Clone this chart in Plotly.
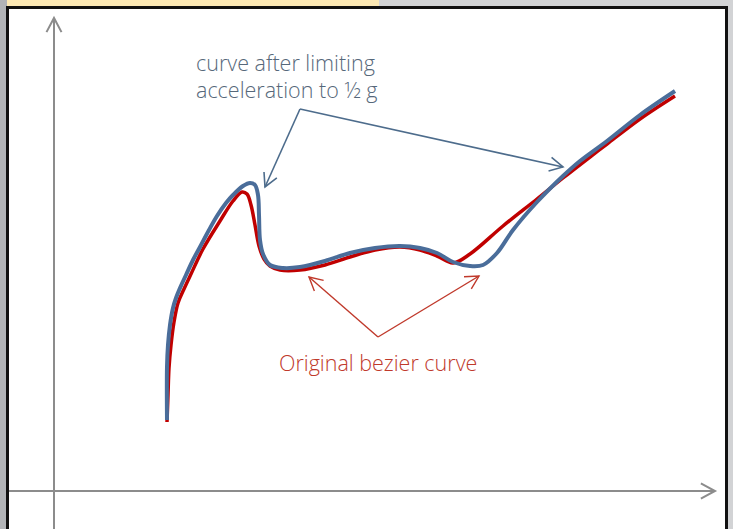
import math
import plotly.graph_objects as go

# ---- data (x, y measured from the axes' origin) ----
original_x = [113, 114, 115, 117, 120, 124, 130, 137, 149, 166, 179, 188, 193, 197, 201, 205, 210,
              216, 226, 246, 271, 296, 321, 346, 366, 383, 399, 416, 449, 483, 509, 536, 553, 586,
              621]
original_y = [69, 96, 123, 146, 169, 188, 202, 217, 242, 270, 290, 299, 297, 286, 266, 245, 232,
              225, 221, 221, 226, 234, 241, 244, 241, 235, 228, 237, 265, 292, 313, 334, 347, 372,
              395]

limited_x = [113, 113, 114, 116, 119, 122, 126, 132, 139, 146, 155, 163, 172, 179, 189, 196, 201,
             204, 205, 206, 209, 216, 229, 246, 271, 296, 321, 346, 366, 383, 399, 416, 429, 443,
             459, 483, 509, 526, 553, 586, 621]
limited_y = [71, 124, 146, 166, 183, 193, 203, 216, 231, 244, 261, 275, 288, 296, 305, 308, 306,
             296, 276, 251, 237, 226, 223, 224, 230, 238, 243, 245, 243, 238, 229, 225, 226, 238,
             261, 289, 315, 330, 350, 376, 400]

label_limited = ["curve after limiting", "acceleration to \u00bd g"]
label_original = "Original bezier curve"

# annotation arrow anchors (data coords)
blue_origin = (246, 382)
blue_tips = [(211, 304), (509, 324)]
red_origin = (324, 154)
red_tips = [(255, 214), (425, 215)]

# ---- layout helpers ----
W, H = 733, 529
OX, OY = 54, 491  # pixel position of origin


def P(px, py):
    return px / W, 1 - py / H


def D(px, py):
    return px - OX, OY - py


RED = "#c00000"
BLUE = "#4a6d9a"
ARROW_BLUE = "#4d6c8c"
ARROW_RED = "#c0392b"
AXIS = "#8c8c8c"

fig = go.Figure()
fig.add_trace(go.Scatter(x=original_x, y=original_y, mode="lines",
                         line=dict(color=RED, width=3.5, shape="spline", smoothing=1.0,
                                   simplify=False),
                         hoverinfo="skip"))
fig.add_trace(go.Scatter(x=limited_x, y=limited_y, mode="lines",
                         line=dict(color=BLUE, width=4, shape="spline", smoothing=1.0,
                                   simplify=False),
                         hoverinfo="skip"))

shapes = []
# background pieces
x0, y0 = P(0, 0); x1, y1 = P(7, H)
shapes.append(dict(type="rect", xref="paper", yref="paper", x0=x0, y0=y0, x1=x1, y1=y1,
                   fillcolor="#b2b4b7", line=dict(width=0), layer="below"))
x0, y0 = P(7, 0); x1, y1 = P(379, 6)
shapes.append(dict(type="rect", xref="paper", yref="paper", x0=x0, y0=y0, x1=x1, y1=y1,
                   fillcolor="#fde9b4", line=dict(width=0), layer="below"))
x0, y0 = P(7.5, 7.5); x1, y1 = P(726.5, 540)
shapes.append(dict(type="rect", xref="paper", yref="paper", x0=x0, y0=y0, x1=x1, y1=y1,
                   fillcolor="white", line=dict(color="#111111", width=3), layer="below"))


def chevron(tip, frm, color, width, L=13, ang=28):
    dx, dy = tip[0] - frm[0], tip[1] - frm[1]
    n = math.hypot(dx, dy)
    ux, uy = dx / n, dy / n
    pts = []
    for s in (1, -1):
        a = math.radians(ang) * s
        rx = ux * math.cos(a) - uy * math.sin(a)
        ry = ux * math.sin(a) + uy * math.cos(a)
        pts.append((tip[0] - L * rx, tip[1] - L * ry))
    path = f"M{pts[0][0]},{pts[0][1]} L{tip[0]},{tip[1]} L{pts[1][0]},{pts[1][1]}"
    return dict(type="path", xref="x", yref="y", path=path,
                line=dict(color=color, width=width), layer="above")


def seg(a, b, color, width, layer="above"):
    return dict(type="line", xref="x", yref="y", x0=a[0], y0=a[1], x1=b[0], y1=b[1],
                line=dict(color=color, width=width), layer=layer)


# axes with open arrow heads
xa0, xa1 = D(9, OY), D(715, OY)
ya0, ya1 = D(OX, 540), D(OX, 18)
shapes.append(seg(xa0, xa1, AXIS, 2, "below"))
shapes.append(seg(ya0, ya1, AXIS, 2, "below"))
shapes.append(chevron(xa1, xa0, AXIS, 2, L=16, ang=28))
shapes.append(chevron(ya1, ya0, AXIS, 2, L=16, ang=28))

# callout arrows
for t in blue_tips:
    shapes.append(seg(blue_origin, t, ARROW_BLUE, 1.6))
    shapes.append(chevron(t, blue_origin, ARROW_BLUE, 1.6, L=15))
for t in red_tips:
    shapes.append(seg(red_origin, t, ARROW_RED, 1.4))
    shapes.append(chevron(t, red_origin, ARROW_RED, 1.4, L=15))

FONT = "Open Sans"
FS = 21.5
annotations = [
    dict(x=D(194, 62)[0], y=D(194, 62)[1], text=label_limited[0], xanchor="left", yanchor="middle",
         showarrow=False, font=dict(family=FONT, size=FS, color="#56687a", weight=300)),
    dict(x=D(194, 89)[0], y=D(194, 89)[1], text=label_limited[1], xanchor="left", yanchor="middle",
         showarrow=False, font=dict(family=FONT, size=FS, color="#56687a", weight=300)),
    dict(x=D(378, 362)[0], y=D(378, 362)[1], text=label_original, xanchor="center", yanchor="middle",
         showarrow=False, font=dict(family=FONT, size=FS, color="#c0392b", weight=300)),
]

fig.update_layout(
    width=W, height=H, autosize=False,
    margin=dict(l=0, r=0, t=0, b=0, pad=0),
    paper_bgcolor="#d2d3d5", plot_bgcolor="rgba(0,0,0,0)",
    showlegend=False,
    xaxis=dict(range=[-OX, W - OX], visible=False, fixedrange=True),
    yaxis=dict(range=[OY - H, OY], visible=False, fixedrange=True),
    shapes=shapes, annotations=annotations,
)

fig.write_html("out.html", config={"displayModeBar": False},
               post_script="document.body.style.margin='0';document.body.style.padding='0';")
